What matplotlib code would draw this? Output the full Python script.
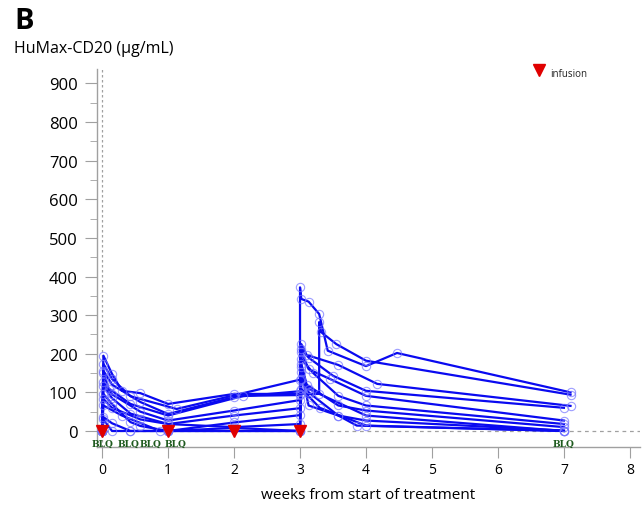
import matplotlib
matplotlib.use("Agg")
import matplotlib.pyplot as plt
from matplotlib.ticker import MultipleLocator

plt.rcParams['font.family'] = ['Open Sans', 'DejaVu Sans']

# ---- data (weeks, µg/mL); BLQ samples plotted at 0 ----
s1_t = [0, 0.02, 0.15, 0.43, 1.0, 2.0, 3.0, 3.0, 3.02, 3.13, 3.29, 3.42, 4.0, 4.47, 7.1]
s1_v = [0, 30, 0, 0, 0, 8, 0, 372, 342, 335, 303, 208, 168, 202, 100]
s2_t = [0, 0.02, 0.15, 0.3, 0.58, 1.0, 2.0, 3.0, 3.13, 3.29, 3.29, 3.32, 3.55, 4.0, 7.1]
s2_v = [0, 195, 148, 104, 98, 70, 96, 96, 96, 96, 282, 256, 225, 182, 94]
s3_t = [0, 0.02, 0.15, 0.43, 1.13, 3.0, 3.02, 3.1, 3.58, 4.17, 7.1]
s3_v = [0, 174, 135, 90, 57, 133, 225, 197, 171, 122, 65]
s4_t = [0, 0.02, 0.15, 0.58, 1.0, 2.0, 3.0, 3.02, 3.13, 3.5, 4.0, 7.0]
s4_v = [0, 156, 120, 75, 44, 88, 103, 212, 190, 143, 104, 60]
s5_t = [0, 0.02, 0.1, 0.43, 1.0, 2.14, 3.0, 3.02, 3.13, 3.45, 4.0, 7.0]
s5_v = [0, 150, 110, 70, 40, 91, 93, 205, 160, 135, 91, 27]
s6_t = [0, 0.02, 0.15, 0.58, 1.0, 2.0, 3.0, 3.02, 3.2, 3.58, 4.0, 7.0]
s6_v = [0, 127, 95, 50, 27, 53, 80, 187, 150, 91, 66, 18]
s7_t = [0, 0.02, 0.15, 0.43, 1.0, 2.0, 3.0, 3.02, 3.1, 3.58, 4.0, 7.0]
s7_v = [0, 117, 85, 45, 18, 40, 59, 174, 120, 66, 53, 10]
s8_t = [0, 0.02, 0.15, 0.43, 0.58, 1.0, 2.0, 3.0, 3.02, 3.13, 3.58, 4.0, 7.0]
s8_v = [0, 96, 70, 23, 13, 0, 22, 41, 166, 100, 40, 27, 1]
s9_t = [0, 0.02, 0.15, 0.58, 1.0, 2.0, 3.0, 3.02, 3.13, 3.58, 3.86, 7.0]
s9_v = [0, 83, 60, 30, 18, 10, 18, 153, 66, 40, 14, 0]
s10_t = [0, 0.02, 0.3, 0.88, 1.0, 3.0, 3.02, 3.13, 4.0, 7.0]
s10_v = [0, 66, 40, 0, 0, 0, 135, 109, 40, 0]
s11_t = [0, 0.02, 0.15, 0.43, 1.0, 3.0, 3.02, 3.3, 4.0, 7.0]
s11_v = [0, 36, 20, 0, 0, 0, 109, 60, 14, 0]
subjects = [(s1_t, s1_v), (s2_t, s2_v), (s3_t, s3_v), (s4_t, s4_v), (s5_t, s5_v),
            (s6_t, s6_v), (s7_t, s7_v), (s8_t, s8_v), (s9_t, s9_v), (s10_t, s10_v),
            (s11_t, s11_v)]

infusion_weeks = [0, 1, 2, 3]
blq_weeks = [0, 0.4, 0.74, 1.12, 7.0]
x_ticks = [0, 1, 2, 3, 4, 5, 6, 7, 8]
y_ticks = [0, 100, 200, 300, 400, 500, 600, 700, 800, 900]

fig = plt.figure(figsize=(6.43, 5.06), dpi=100)
ax = fig.add_axes([0.151, 0.115, 0.844, 0.747])

grey = '#a0a0a0'
ax.axhline(0, color=grey, lw=0.9, ls=(0, (3, 3)), zorder=1)
ax.axvline(0, color=grey, lw=0.9, ls=(0, (2, 2)), zorder=1)

for t, v in subjects:
    ax.plot(t, v, color='#0a0af0', lw=1.6, zorder=3)
    ax.plot(t, v, ls='none', marker='o', ms=6, mfc='none',
            mec=(0.45, 0.45, 1.0, 0.7), mew=0.8, zorder=4)

ax.plot(infusion_weeks, [0] * len(infusion_weeks), ls='none', marker='v',
        ms=8.5, color='#e00000', zorder=5, clip_on=False)

for w in blq_weeks:
    ax.text(w, -31, 'BLQ', ha='center', va='center', fontsize=6.5,
            color='#1e5a1e', family=['DejaVu Serif'], fontweight='bold', zorder=6)

# legend
ax.plot([6.62], [935], ls='none', marker='v', ms=8, color='#e00000', clip_on=False)
ax.text(6.8, 927, 'infusion', fontsize=7, va='center', ha='left', color='#222222')

ax.set_xlim(-0.076, 8.15)
ax.set_ylim(-41, 938)
ax.set_xticks(x_ticks)
ax.set_yticks(y_ticks)
ax.yaxis.set_minor_locator(MultipleLocator(50))
for s in ['top', 'right']:
    ax.spines[s].set_visible(False)
for s in ['left', 'bottom']:
    ax.spines[s].set_color(grey)
    ax.spines[s].set_linewidth(1.0)
ax.tick_params(axis='y', which='major', length=9, color=grey, labelsize=12, pad=5)
ax.tick_params(axis='y', which='minor', length=5, color=grey)
ax.tick_params(axis='x', which='major', length=8, color=grey, labelsize=10, pad=3)
ax.set_xlabel('weeks from start of treatment', fontsize=11, labelpad=7)

fig.text(0.022, 0.958, 'B', fontsize=21, fontweight='bold', va='center', ha='left')
fig.text(0.022, 0.903, 'HuMax-CD20 (µg/mL)', fontsize=11.5, va='center', ha='left')

fig.savefig('out.png', dpi=100)
